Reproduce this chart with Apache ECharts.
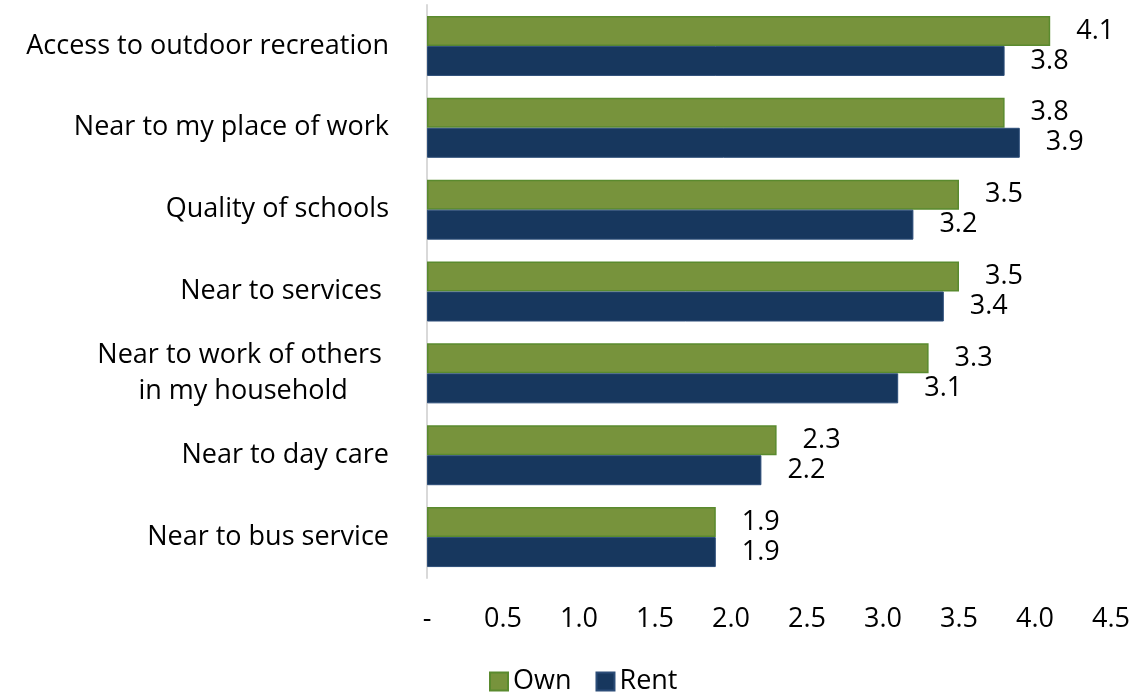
<!DOCTYPE html>
<html>
<head>
<meta charset="utf-8">
<script src="https://cdn.jsdelivr.net/npm/echarts@6/dist/echarts.min.js"></script>
<style>
  html, body { margin: 0; padding: 0; background: #ffffff; }
  #chart { width: 1140px; height: 700px; }
</style>
</head>
<body>
<div id="chart"></div>
<script>
// Importance of location factors, owners vs renters
const categories = [
  'Access to outdoor recreation',
  'Near to my place of work',
  'Quality of schools',
  'Near to services ',
  'Near to work of others \nin my household',
  'Near to day care',
  'Near to bus service'
];
const ownValues  = [4.1, 3.8, 3.5, 3.5, 3.3, 2.3, 1.9];
const rentValues = [3.8, 3.9, 3.2, 3.4, 3.1, 2.2, 1.9];
const axisTicks  = ['-', '0.5', '1.0', '1.5', '2.0', '2.5', '3.0', '3.5', '4.0', '4.5'];

const FONT = '"Open Sans", "Noto Sans", sans-serif';
const SIZE = 27;
const chart = echarts.init(document.getElementById('chart'));

const valueLabel = {
  show: true,
  position: 'right',
  distance: 26,
  color: '#000000',
  fontFamily: FONT,
  fontSize: SIZE,
  formatter: p => p.value.toFixed(1)
};

chart.setOption({
  animation: false,
  backgroundColor: '#ffffff',
  grid: { left: 427, right: 29, top: 5, bottom: 122, containLabel: false },
  xAxis: {
    type: 'value',
    min: 0,
    max: 4.5,
    interval: 0.5,
    axisLine: { show: false },
    axisTick: { show: false },
    splitLine: { show: false },
    axisLabel: {
      margin: 28,
      color: '#000000',
      fontFamily: FONT,
      fontSize: SIZE,
      formatter: v => axisTicks[Math.round(v / 0.5)]
    }
  },
  yAxis: {
    type: 'category',
    data: categories,
    inverse: true,
    axisLine: { show: true, lineStyle: { color: '#d9d9d9', width: 2 } },
    axisTick: { show: false },
    axisLabel: {
      margin: 38,
      color: '#000000',
      fontFamily: FONT,
      fontSize: SIZE,
      lineHeight: 36,
      align: 'right',
      formatter: v => v.split('\n').map(l => '{c|' + l + '}').join('\n'),
      rich: {
        c: { align: 'center', fontFamily: FONT, fontSize: SIZE, lineHeight: 36, color: '#000000' }
      }
    }
  },
  legend: {
    bottom: 0,
    left: 484,
    icon: 'rect',
    itemWidth: 18,
    itemHeight: 18,
    itemGap: 24,
    textStyle: { fontFamily: FONT, fontSize: SIZE, color: '#000000' },
    data: ['Own', 'Rent']
  },
  series: [
    {
      name: 'Own',
      type: 'bar',
      data: ownValues,
      barWidth: 30,
      barGap: '0%',
      itemStyle: { color: '#77933c', borderColor: '#5a8a2e', borderWidth: 1.5 },
      label: valueLabel
    },
    {
      name: 'Rent',
      type: 'bar',
      data: rentValues,
      barWidth: 30,
      barGap: '0%',
      itemStyle: { color: '#17375e', borderColor: '#2c4d78', borderWidth: 1 },
      label: valueLabel
    }
  ]
});
</script>
</body>
</html>
